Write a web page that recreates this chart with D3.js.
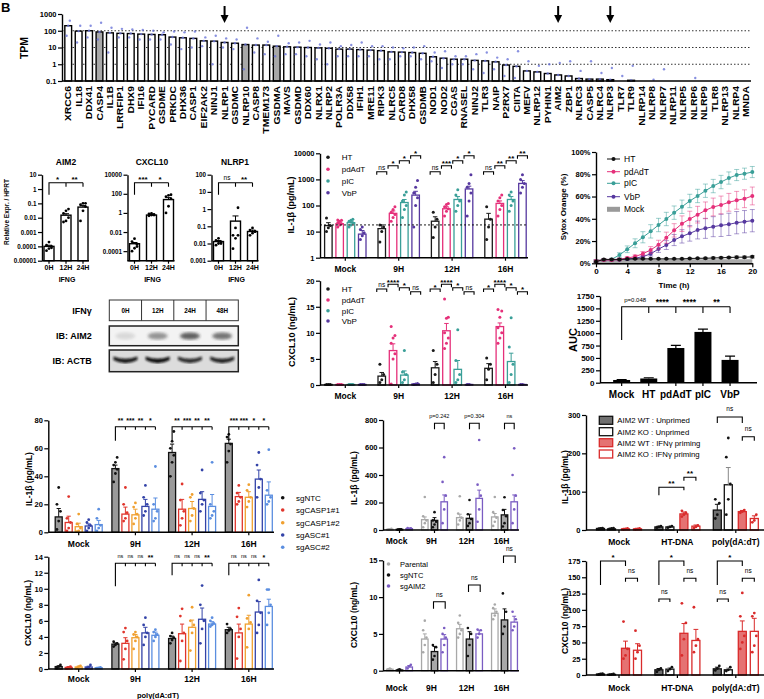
<!DOCTYPE html>
<html><head><meta charset="utf-8">
<script src="https://cdn.jsdelivr.net/npm/d3@7"></script>
<style>body{margin:0;background:#fff}svg{display:block}text{font-family:"Liberation Sans",Arial,Helvetica,sans-serif}</style>
</head><body><svg id="c" width="764" height="699"></svg>
<script>
// ================= DATA =================
const tpmGenes = ["XRCC6","IL18","DDX41","CASP4","IL1B","LRRFIP1","DHX9","IFI16","PYCARD","GSDME","PRKDC","DHX36","CASP1","EIF2AK2","NINJ1","NLRP1","GSDMC","NLRP10","CASP8","TMEM173","GSDMA","MAVS","GSDMD","DDX60","NLRX1","NLRP2","POLR3A","DDX58","IFIH1","MRE11","RIPK3","NLRC5","CARD8","DHX58","GSDMB","NOD1","NOD2","CGAS","RNASEL","NINJ2","TLR3","NAIP","P2RX7","CIITA","MEFV","NLRP12","PYHIN1","AIM2","ZBP1","NLRC3","CASP5","NLRC4","NLRP3","TLR7","TLR9","NLRP14","NLRP8","NLRP7","NLRP11","NLRP5","NLRP6","NLRP9","TLR8","NLRP13","NLRP4","MNDA"];
const tpmValues = [200,95,100,85,75,70,68,63,60,58,42,38,35,25,24,20,18,15,14,14,12,11,10.5,10,9.5,9,8,8,7.5,7,6.5,5.5,5.3,5,4.5,2.8,2.3,2,2,1.7,1.6,1.4,0.9,0.75,0.4,0.35,0.28,0.23,0.2,0.14,0.13,0.13,0.12,0.1,0.11,0.1,0.1,0.1,0.1,0.1,0.1,0.1,0.1,0.1,0.1,0.1];
const tpmLow = [50,20,40,30,5,40,40,30,30,30,15,8,10,12,1,10,8,0.5,5,4,3,4,4,3,2,1,3,3,3,3,2,2,3,3,2,1.5,0.6,1,1,0.5,0.3,0.5,0.2,0.15,0.1,0.1,0.1,0.1,0.1,0.1,0.1,0.1,0.1,0.1,0.1,0.1,0.1,0.1,0.1,0.1,0.1,0.1,0.1,0.1,0.1,0.1];
const tpmHigh = [400,200,200,300,150,130,120,110,100,80,90,80,90,40,50,35,30,150,35,22,50,18,20,25,15,20,12,14,20,12,12,10,9,10,12,5,6,3,3,4,5,2.5,2,6,1.5,0.8,1,1.2,1.5,0.4,1.5,0.3,0.6,0.2,0.8,0.1,0.12,0.5,0.1,0.1,0.15,0.1,0.1,0.1,0.1,0.1];
const tpmGreyGenes = ["CASP4","NLRP10","GSDMA"];
const tpmArrowGenes = ["NLRP1","AIM2","NLRP3"];
const tpmTicks = [0.1,1,10,100,1000];
const tpmGrid = [1,10,100];

const ifngTimes = ["0H","12H","24H"];
const aim2Expr = [0.0001,0.015,0.055];
const aim2Err = [0.00002,0.004,0.015];
const aim2Pts = [[0.00005,0.00007,0.0001,0.00012,0.0002,0.00008],[0.005,0.006,0.01,0.02,0.03,0.04],[0.006,0.03,0.06,0.08,0.1,0.1]];
const aim2Ticks = [0.00001,0.0001,0.001,0.01,0.1,1,10];
const cxclExpr = [0.0006,0.6,25];
const cxclErr = [0.0002,0.05,15];
const cxclPts = [[0.0001,0.0002,0.0005,0.001,0.002,0.0003],[0.5,0.6,0.7,0.8,0.9,0.6],[1,5,30,50,70,80]];
const cxclTicks = [0.0001,0.01,1,100,10000];
const nlrp1Expr = [0.013,0.2,0.05];
const nlrp1Err = [0.002,0.2,0.01];
const nlrp1Pts = [[0.008,0.01,0.012,0.015,0.02,0.01],[0.005,0.02,0.03,0.03,0.08,1.2],[0.03,0.04,0.05,0.06,0.08,0.05]];
const nlrp1Ticks = [0.001,0.01,0.1,1,10,100];
const sigAim2 = ["*","**"], sigCxcl = ["***","*"], sigNlrp1 = ["ns","**"];

const blotLanes = ["0H","12H","24H","48H"];
const aim2Band = [0.12,0.45,0.7,0.6];
const actbBand = [0.95,1,0.85,0.9];

const timeGroups = ["Mock","9H","12H","16H"];
const stimSeries = ["HT","pdAdT","pIC","VbP"];
const il1bStim = [[17,20,22,8],[13,50,130,250],[25,75,170,430],[30,120,170,700]];
const il1bStimErr = [[5,3,3,3],[5,12,40,100],[12,15,50,120],[20,30,50,200]];
const il1bStimPts = [
 [[10,14,17,33],[15,18,20,22,25,27,28],[15,18,22,25,27,30],[5,7,9,12,15]],
 [[4,10,15,18],[25,35,45,55,70,90],[35,70,100,150,250,330],[15,100,200,300,500,900]],
 [[6,15,30,55],[40,60,75,90,110,120],[60,100,150,250,400],[40,150,300,500,700,1500]],
 [[5,15,30,90],[40,70,100,150,200,250],[60,100,150,250,330],[300,500,700,1000,1500]]];
const il1bStimTicks = [1,10,100,1000,10000];
const il1bStimThreshold = 18;
const il1bStimSig = [null,["ns","*","*","*"],["ns","***","*","*"],["ns","**","**","**"]];
const cxclStim = [[0.1,0.1,0.1,0.1],[1.7,6.6,1.9,0.2],[3.3,10.4,3.0,0.1],[3.2,11.2,4.5,0.1]];
const cxclStimErr = [[0.05,0.05,0.05,0.05],[0.7,1.3,0.8,0.05],[1.2,1.4,1.7,0.05],[0.9,0.7,1.6,0.05]];
const cxclStimPts = [
 [[0.1,0.1,0.1],[0.1,0.1,0.1],[0.1,0.1,0.1],[0.1,0.1,0.1]],
 [[0.5,1,2,4],[0.2,5,6,8,9,9.5,11.2],[0.5,1,2,2.5,6.6],[0.1,0.2,0.3]],
 [[0.5,2,4,6.6],[7,8,9,10,12.8,13,16.5],[0.5,1,2,4.7,10.6],[0.1,0.1]],
 [[1,3,4,5.2],[8,9,10,11,13,14.2,14.5],[0.5,2,4,7.3,12.9],[0.1,0.1]]];
const cxclStimTicks = [0,5,10,15,20];
const cxclStimSig = [null,["ns","****","*","ns"],["*","****","*","ns"],["*","****","*","*"]];

const sytoxTime = [0,1,2,3,4,5,6,7,8,9,10,11,12,13,14,15,16,17,18,19,20];
const sytoxHT = [1.5,3.5,3.5,3.5,3.8,4,4,4,4,4,4,4,4.3,4.5,4.5,4.8,5,5.2,5.5,5.5,5.8];
const sytoxPdAdT = [2,3,3,3.5,4.8,6,8.6,12,16.7,23,29.6,35.6,39.8,43.7,47.6,50.6,52.4,54.8,56.6,58,60.5];
const sytoxPIC = [2,3,3.5,7.5,12.6,18,23.4,28.7,34.4,39.8,45.5,50.8,56,60.5,65.2,69.4,73,76.6,79.3,80.5,82];
const sytoxVbP = [2,3,3,3.3,3.8,4.5,6,8.5,12.8,16.4,20.9,24.2,26.9,29.9,31.4,32.9,34.1,35,36.5,37.4,38.3];
const sytoxMock = [1.5,1.5,1.5,1.5,1.5,1.5,1.5,1.5,1.5,1.5,1.5,1.5,1.5,1.5,1.5,1.5,1.5,1.5,1.5,1.5,1.5];
const sytoxErrHT = [0.5,0.5,0.5,0.5,0.5,0.5,0.5,0.5,0.5,0.5,0.5,0.5,0.5,0.5,0.8,0.8,0.8,0.8,1,1,1];
const sytoxErrPdAdT = [1,1,1,1,1,1.5,2,3,4,5,6,7,7,7.5,7.5,8,8,8,8,8,8];
const sytoxErrPIC = [1,1,1,2,3,4,5,6,6,6,6,6,6,6,6,6,6,5.5,5,5,5];
const sytoxErrVbP = [1,1,1,1,1,1,1.5,2,3,4,5,6,7,8,9,9,10,10,10,10,10];
const sytoxXTicks = [0,4,8,12,16,20];
const sytoxYTicks = [0,20,40,60,80,100];

const aucGroups = ["Mock","HT","pdAdT","pIC","VbP"];
const aucValues = [55,85,700,1025,460];
const aucErr = [10,15,55,55,75];
const aucTicks = [0,250,500,750,1000,1250,1500,1750];
const aucSig = ["p=0.048","****","****","**"];

const koSeries = ["sgNTC","sgCASP1#1","sgCASP1#2","sgASC#1","sgASC#2"];
const il1bKO = [[11,7,4,4.5,5.5],[45.5,13,12.5,18.5,16.5],[57,16.5,17,23.5,18.5],[63.5,25.5,25,38,26.5]];
const il1bKOErr = [[6,4.5,2.5,1.5,3],[2.5,5,4,5,8],[6,7,5,5.5,8.5],[3,3,4,6.5,9.5]];
const il1bKOPts = [
 [[2,8,15,20,32],[1,3,7,10,25.5],[0.5,1,3,6,13],[1,3,5,7,9],[1,3,5,10,16.5]],
 [[36,42,45,48,50,53.5],[8,10,14,20,32],[6,10,13,18,21],[12,15,20,25,33.5],[8,10,15,20,47]],
 [[40,50,55,60,65,72],[5,10,15,23,34.5],[8,12,17,25,27],[15,20,23,28,44.5],[10,12,15,20,50]],
 [[50,58,63,68,70],[20,22,25,28,33.5],[18,22,25,30,34],[25,32,38,48,57],[20,22,25,30,59]]];
const il1bKOTicks = [0,20,40,60,80];
const il1bKOSig = [null,["**","***","**","*"],["**","***","**","**"],["***","***","*","*"]];
const cxclKO = [[0.3,0.2,0.25,0.25,0.15],[3.1,3.2,3.9,4.5,4.2],[3.8,4.4,5.2,6.2,5.6],[4.9,4.5,5.6,7.1,7.8]];
const cxclKOErr = [[0.1,0.1,0.1,0.1,0.05],[0.15,0.7,0.4,0.7,0.4],[0.3,1.2,0.9,1.4,0.3],[0.3,1.1,1.1,1.3,0.9]];
const cxclKOPts = [
 [[0.1,0.3,0.5],[0.1,0.2,0.3],[0.1,0.3,0.4],[0.1,0.2,0.5],[0.1,0.15,0.2]],
 [[2.8,3.0,3.2,3.4],[1.2,2.5,3.5,4.6,5.1],[2.5,3.5,4.0,4.3,4.6],[3,4,4.5,5.5,6.4],[3.5,4,4.3,4.6,4.9]],
 [[3.2,3.6,3.9,4.1,4.5],[1,3.5,4.5,6.6,7.5],[2.3,4.5,5.5,6,7.7],[3.2,5,6,8,10.4],[5.3,5.5,5.7,6,6.4]],
 [[4.5,4.8,5,5.6],[1.3,4,5,6.5,7.6],[2.7,5,5.8,6.3,9.2],[4.5,5.5,7,8.5,11.1],[5.5,7,8,9.9,9.9]]];
const cxclKOTicks = [0,2,4,6,8,10,12,14];
const cxclKOSig = [null,["ns","ns","ns","**"],["ns","ns","ns","**"],["ns","ns","ns","*"]];

const aimSeries = ["Parental","sgNTC","sgAIM2"];
const il1bAim = [[5,5,10],[75,70,205],[90,85,230],[95,110,205]];
const il1bAimErr = [[2,2,3],[20,20,50],[25,30,60],[25,40,50]];
const il1bAimPts = [
 [[3,6,8],[3,5,6],[5,8,12,15]],
 [[20,50,70,100,240],[20,40,60,70,130],[50,150,250,350,530]],
 [[40,70,90,120,245],[30,50,80,115,218],[60,150,250,330,655]],
 [[30,60,90,130,240],[25,50,100,145,238],[50,150,250,400,594]]];
const il1bAimTicks = [0,200,400,600,800];
const il1bAimSig = [null,"p=0.242","p=0.304","ns"];
const cxclAim = [[0.2,0.1,0.5],[4.3,2.6,4.3],[5.7,4.3,5.0],[7.8,6.9,6.6]];
const cxclAimErr = [[0.1,0.1,0.2],[0.7,0.7,0.6],[0.6,1.0,0.5],[0.6,1.5,0.8]];
const cxclAimPts = [
 [[0.2,0.3],[0.1,0.2],[0.3,0.6,0.8]],
 [[2.5,3.5,4.5,5.5,6.8],[1.5,2,3.2,3.5],[2.5,3.5,4.5,5,5.8]],
 [[4.5,5,5.5,6.5,7.5],[2,3.5,5,5.8],[4.5,5,5.5,5.6]],
 [[7,7.5,8,8.5,9],[5,6,8,10.5],[5.5,6,7,8]]];
const cxclAimTicks = [0,5,10,15];
const cxclAimSig = [null,"ns","ns","ns"];

const primeGroups = ["Mock","HT-DNA","poly(dA:dT)"];
const primeSeries = ["AIM2 WT : Unprimed","AIM2 KO : Unprimed","AIM2 WT : IFNγ priming","AIM2 KO : IFNγ priming"];
const il1bPrime = [[4,3,3,3],[8,8,42,10],[52,118,48,30]];
const il1bPrimeErr = [[1,1,1,1],[2,2,5,3],[15,45,3,7]];
const il1bPrimePts = [
 [[3,4,5],[3,4,5],[2,3,4],[2,3,4]],
 [[6,8,10],[6,8,10],[35,40,45,50],[5,8,12]],
 [[30,40,70,80],[40,80,120,190,240],[45,48,52],[20,25,40]]];
const il1bPrimeTicks = [0,100,200,300];
const cxclPrime = [[1.5,1,41,38],[8,9,64,53],[9.5,8,67,67]];
const cxclPrimeErr = [[0.5,0.3,11,10],[2,2,15,17],[2.5,2.5,16,20]];
const cxclPrimePts = [
 [[0.5,1.5,2],[0.5,1,1.5],[25,30,40,82],[25,35,45,68]],
 [[5,8,10],[6,9,12],[30,55,80,110],[35,45,55,104]],
 [[7,10,14],[6,8,12],[40,50,60,90,126],[35,45,60,90,95]]];
const cxclPrimeTicks = [0,25,50,75,100,125,150,175];

// ================= HELPERS =================
const svg = d3.select("#c");
const FONT = '"Liberation Sans", Arial, Helvetica, sans-serif';
function txt(x,y,s,o={}){
  const t = svg.append("text").attr("x",x).attr("y",y).text(s)
    .attr("font-size",o.size||8).attr("font-weight",o.bold===false?"normal":"bold")
    .attr("text-anchor",o.anchor||"middle").attr("fill",o.fill||"#000");
  if(o.rotate) t.attr("transform",`rotate(-90,${x},${y})`);
  if(o.dy) t.attr("dy",o.dy);
  return t;
}
function yAxis(scale,x,ticks,fmt,size,len=4){
  const g = svg.append("g").attr("transform",`translate(${x},0)`)
    .call(d3.axisLeft(scale).tickValues(ticks).tickFormat(fmt).tickSize(len).tickSizeOuter(0));
  g.select(".domain").attr("stroke","#000").attr("stroke-width",1.4);
  g.selectAll(".tick line").attr("stroke","#000").attr("stroke-width",1.2);
  g.selectAll(".tick text").attr("font-size",size).attr("font-weight","bold").attr("font-family",FONT).attr("fill","#000").attr("x",-len-1.5);
  return g;
}
function line(x1,y1,x2,y2,c="#000",w=1.4){ return svg.append("line").attr("x1",x1).attr("y1",y1).attr("x2",x2).attr("y2",y2).attr("stroke",c).attr("stroke-width",w); }
function bracket(x1,x2,y,d1,d2,label,ly,size){
  svg.append("path").attr("d",`M${x1},${y+d1}V${y}H${x2}V${y+d2}`).attr("fill","none").attr("stroke","#000").attr("stroke-width",1.1);
  if(label) sigText((x1+x2)/2, ly===undefined? y-2 : ly, label, size);
}
function sigText(x,y,label,size){
  const isStar = /^\*+$/.test(label);
  txt(x, isStar? y+2.5 : y, label, {size: isStar? (size||8) : (size? size-1.5 : 6.5), bold: isStar});
}
function multiBracket(xs,y,drop,tick,labels,ly,size){
  let d = `M${xs[0]},${y+drop}V${y}H${xs[xs.length-1]}`;
  xs.slice(1).forEach(x=>{ d += `M${x},${y}V${y+tick}`; });
  svg.append("path").attr("d",d).attr("fill","none").attr("stroke","#000").attr("stroke-width",1.1);
  labels.forEach((l,i)=> sigText((xs[i]+xs[i+1])/2, ly, l, size));
}
function grouped(o){
  const gx = d3.scaleBand().domain(o.groups).range([o.x0,o.x1]);
  const n = o.series.length;
  const cx = gi => gx(o.groups[gi]) + gx.bandwidth()/2;
  const bx = (gi,si) => cx(gi) + (o.offsets ? o.offsets[si] : (si-(n-1)/2)*o.step);
  const base = o.y.range()[0];
  const G = svg.append("g");
  o.vals.forEach((row,gi)=>row.forEach((v,si)=>{
    const x=bx(gi,si), w=o.barW, yt=o.y(v);
    G.append("rect").attr("x",x-w/2).attr("y",yt).attr("width",w).attr("height",Math.max(0,base-yt))
      .attr("fill",o.fills[si]).attr("stroke",o.strokes[si]).attr("stroke-width",o.sw||1.3);
  }));
  o.vals.forEach((row,gi)=>row.forEach((v,si)=>{
    const x=bx(gi,si), w=o.barW, yt=o.y(v);
    if(o.errs){ const e=o.errs[gi][si]; if(e>0){ const ye=o.y(v+e);
      G.append("path").attr("d",`M${x},${yt}V${ye}M${x-w*0.3},${ye}H${x+w*0.3}`).attr("stroke",o.errColors? o.errColors[si]: o.strokes[si]).attr("stroke-width",1).attr("fill","none"); } }
    if(o.pts){ o.pts[gi][si].forEach((p,k)=>{
      G.append("circle").attr("cx", x + ((k%3)-1)*w*0.25).attr("cy",o.y(p)).attr("r",o.r||1.3)
        .attr("fill", o.ptColors? o.ptColors[si] : o.strokes[si]); }); }
  }));
  line(o.axisX, base, o.axisEnd, base);
  o.groups.forEach((g,gi)=>{
    line(cx(gi),base,cx(gi),base+3,"#000",1.2);
    txt(cx(gi)+(o.labelDx||0), o.labelY, g, {size:o.labelSize||8.5});
  });
  yAxis(o.y, o.axisX, o.ticks, o.fmt||(d=>d), o.tickSize||7.5);
  return {bx,cx};
}
function legendDots(x,tx,ys,labels,colors,size){
  labels.forEach((l,i)=>{
    svg.append("circle").attr("cx",x).attr("cy",ys[i]).attr("r",1.8).attr("fill",colors[i]);
    txt(tx, ys[i]+size*0.35, l, {size, bold:false, anchor:"start"});
  });
}

// ================= PANEL A: TPM =================
txt(1,12,"B",{size:13,anchor:"start"});
const ax = d3.scaleBand().domain(tpmGenes).range([63,751]).paddingInner(0.35).paddingOuter(0.175);
const ay = d3.scaleLog().domain([0.1,1000]).range([81,14]);
tpmGrid.forEach(v=> line(62, ay(v), 751, ay(v), "#000", 0.8).attr("stroke-dasharray","1.5,2"));
tpmGenes.forEach((g,i)=>{
  const x = ax(g), w = ax.bandwidth(), yt = ay(tpmValues[i]);
  if (tpmValues[i] > 0.1)
    svg.append("rect").attr("x",x).attr("y",yt).attr("width",w).attr("height",ay(0.1)-yt)
      .attr("fill", tpmGreyGenes.includes(g) ? "#a8a8a8" : "#fff").attr("stroke","#000").attr("stroke-width",1.4);
});
tpmGenes.forEach((g,i)=>{
  const c = ax(g)+ax.bandwidth()/2;
  [tpmLow[i], tpmValues[i], tpmHigh[i]].forEach((v,k)=>{
    if (v > 0.1) svg.append("circle").attr("cx",c+(k-1)*1.6).attr("cy",ay(v)).attr("r",1.2).attr("fill","#6a74d8").attr("opacity",0.8);
  });
  svg.append("text").attr("transform",`translate(${c},86) scale(1,1.15) rotate(-90)`).attr("dy","0.35em")
    .attr("text-anchor","end").attr("font-size",9).attr("font-weight","bold").attr("fill","#000").text(g);
});
yAxis(ay, 62, tpmTicks, d=>d, 7.5);
line(62, 81, 751, 81);
txt(28, 48, "TPM", {size:10.5, rotate:true});
tpmArrowGenes.forEach(g=>{
  const c = ax(g)+ax.bandwidth()/2;
  line(c,6,c,16,"#000",2);
  svg.append("path").attr("d",`M${c-4},15L${c+4},15L${c},23Z`).attr("fill","#000");
});

// ================= PANEL B: qPCR =================
function qpcr(title, vals, errs, pts, ticks, domain, x0, titleX, sig){
  const y = d3.scaleLog().domain(domain).range([260.7,174.7]);
  const r = grouped({groups:ifngTimes, series:["v"], vals:vals.map(v=>[v]), errs:errs.map(e=>[e]), pts:pts.map(p=>[p]),
    y, x0:x0-1.5, x1:x0+49.5, axisX:x0, axisEnd:x0+47, step:0, barW:10, strokes:["#000"], fills:["#fff"],
    labelY:269.5, labelSize:7, ticks, fmt:d=>String(d), tickSize:6.3, r:1.4, sw:1.4});
  txt(titleX, 165, title, {size:8.5});
  txt(x0+25, 282, "IFNG", {size:7});
  const xs = [0,1,2].map(i=>r.cx(i));
  multiBracket(xs, 182.7, 12, 4, sig, 179.5, 8);
}
qpcr("AIM2", aim2Expr, aim2Err, aim2Pts, aim2Ticks, [0.00001,10], 42, 66, sigAim2);
qpcr("CXCL10", cxclExpr, cxclErr, cxclPts, cxclTicks, [0.00001,10000], 127.5, 152, sigCxcl);
qpcr("NLRP1", nlrp1Expr, nlrp1Err, nlrp1Pts, nlrp1Ticks, [0.001,100], 211.5, 235, sigNlrp1);
txt(9, 212, "Relative Expr. / HPRT", {size:6.5, rotate:true});

// ================= Western blot =================
const lane = d3.scaleBand().domain(blotLanes).range([109.3,238.3]);
const defs = svg.append("defs");
defs.append("filter").attr("id","blur").append("feGaussianBlur").attr("stdDeviation",1.4);
defs.append("filter").attr("id","blur2").append("feGaussianBlur").attr("stdDeviation",0.8);
svg.append("rect").attr("x",109.3).attr("y",300).attr("width",129).attr("height",20.7).attr("fill","#fff").attr("stroke","#333").attr("stroke-width",1);
blotLanes.forEach((l,i)=>{
  if(i>0) line(lane(l),300,lane(l),320.7,"#333",1);
  txt(lane(l)+lane.bandwidth()/2, 312.6, l, {size:6.3});
});
svg.append("rect").attr("x",109.3).attr("y",326).attr("width",129).attr("height",19.7).attr("fill","#f3f3f3").attr("stroke","#222").attr("stroke-width",1.5);
svg.append("rect").attr("x",109.3).attr("y",350).attr("width",129).attr("height",21.7).attr("fill","#dcdcdc").attr("stroke","#222").attr("stroke-width",1.5);
blotLanes.forEach((l,i)=>{
  const c = lane(l)+lane.bandwidth()/2;
  svg.append("ellipse").attr("cx",c).attr("cy",336).attr("rx",10).attr("ry",3.5).attr("fill","#202020").attr("opacity",aim2Band[i]).attr("filter","url(#blur)");
  svg.append("path").attr("d",`M${c-12},356.5Q${c},361 ${c+12},356.5L${c+12},360Q${c},366.5 ${c-12},360Z`)
    .attr("fill","#0d0d0d").attr("opacity",actbBand[i]).attr("filter","url(#blur2)");
});
txt(91.7,313.5,"IFNγ",{size:9,anchor:"end"});
txt(91.7,339,"IB: AIM2",{size:9,anchor:"end"});
txt(91.7,364,"IB: ACTB",{size:9,anchor:"end"});

// ================= PANEL C =================
const stimColors = ["#1a1a1a","#e5307a","#3a9f98","#56389f"];
const whites4 = ["#fff","#fff","#fff","#fff"];
const cy1 = d3.scaleLog().domain([1,10000]).range([257.7,153.3]);
const C1 = grouped({groups:timeGroups, series:stimSeries, vals:il1bStim, errs:il1bStimErr, pts:il1bStimPts, y:cy1,
  x0:318.6, x1:532.2, axisX:320, axisEnd:528, step:11.3, barW:7.5, strokes:stimColors, fills:whites4,
  labelY:271.5, labelSize:8.5, ticks:il1bStimTicks, fmt:d=>d, tickSize:7.5, r:1.5});
line(320, cy1(il1bStimThreshold), 528, cy1(il1bStimThreshold), "#000", 0.9).attr("stroke-dasharray","2,2");
const stagC1 = [171.7,165.7,160.7,155.7];
il1bStimSig.forEach((row,gi)=>{ if(!row) return; row.forEach((l,si)=>{ const x=C1.bx(gi,si); bracket(x-5,x+5,stagC1[si],3,3,l); }); });
legendDots(328,341.7,[157.3,169.3,181,192.7],stimSeries,stimColors,8);
txt(294,205,"IL-1β (pg/mL)",{size:9,rotate:true});

const cy2 = d3.scaleLinear().domain([0,20]).range([385,280.7]);
const C2 = grouped({groups:timeGroups, series:stimSeries, vals:cxclStim, errs:cxclStimErr, pts:cxclStimPts, y:cy2,
  x0:318.6, x1:532.2, axisX:320, axisEnd:528, step:11.3, barW:7.5, strokes:stimColors, fills:whites4,
  labelY:399, labelSize:8.5, ticks:cxclStimTicks, fmt:d=>d, tickSize:7.5, r:1.5});
const stagC2 = [289,284.3,287.7,291.7];
cxclStimSig.forEach((row,gi)=>{ if(!row) return; row.forEach((l,si)=>{ const x=C2.bx(gi,si); bracket(x-5,x+5,stagC2[si],3,3,l); }); });
legendDots(328,341.7,[289,300,310.7,321],stimSeries,stimColors,8);
txt(295,332,"CXCL10 (ng/mL)",{size:9,rotate:true});

// ================= PANEL D: Sytox =================
const sx = d3.scaleLinear().domain([0,20]).range([596,752.3]);
const sy = d3.scaleLinear().domain([0,100]).range([263.3,152]);
const sytoxSets = [
  {name:"HT", v:sytoxHT, e:sytoxErrHT, c:"#111"},
  {name:"pdAdT", v:sytoxPdAdT, e:sytoxErrPdAdT, c:"#e5307a"},
  {name:"pIC", v:sytoxPIC, e:sytoxErrPIC, c:"#3a9f98"},
  {name:"VbP", v:sytoxVbP, e:sytoxErrVbP, c:"#56389f"}];
svg.append("path").datum(sytoxMock).attr("d", d3.line().x((d,i)=>sx(sytoxTime[i])).y(d=>sy(d)))
  .attr("fill","none").attr("stroke","#9a9a9a").attr("stroke-width",5).attr("opacity",0.85);
sytoxSets.slice().reverse().forEach(s=>{
  s.v.forEach((v,i)=>{
    const x=sx(sytoxTime[i]);
    svg.append("path").attr("d",`M${x},${sy(v-s.e[i])}V${sy(v+s.e[i])}M${x-2.5},${sy(v-s.e[i])}H${x+2.5}M${x-2.5},${sy(v+s.e[i])}H${x+2.5}`)
      .attr("stroke",s.c).attr("stroke-width",0.9).attr("opacity",0.55).attr("fill","none");
  });
  svg.append("path").datum(s.v).attr("d", d3.line().x((d,i)=>sx(sytoxTime[i])).y(d=>sy(d)))
    .attr("fill","none").attr("stroke",s.c).attr("stroke-width",1);
  s.v.forEach((v,i)=> svg.append("circle").attr("cx",sx(sytoxTime[i])).attr("cy",sy(v)).attr("r",2).attr("fill",s.c));
});
{
  const g = svg.append("g").attr("transform","translate(0,263.3)").call(d3.axisBottom(sx).tickValues(sytoxXTicks).tickSize(4).tickSizeOuter(0));
  g.select(".domain").attr("stroke","#000").attr("stroke-width",1.4);
  g.selectAll(".tick line").attr("stroke","#000").attr("stroke-width",1.2);
  g.selectAll(".tick text").attr("font-size",8).attr("font-weight","bold").attr("font-family",FONT).attr("fill","#000").attr("y",5.5);
}
yAxis(sy, 596, sytoxYTicks, d=>d+"%", 7.5);
txt(674,288,"Time (h)",{size:8});
txt(566,207,"Sytox Orange (%)",{size:8,rotate:true});
sytoxSets.forEach((s,i)=>{
  const y = [159,171.7,183.3,196.7][i];
  line(607,y,620,y,s.c,1); svg.append("circle").attr("cx",613.5).attr("cy",y).attr("r",2).attr("fill",s.c);
  txt(624,y+3,s.name,{size:8.5,bold:false,anchor:"start"});
});
line(607,209.3,620,209.3,"#9a9a9a",5);
txt(624,212.3,"Mock",{size:8.5,bold:false,anchor:"start"});

// ================= PANEL E: AUC =================
const ex = d3.scaleBand().domain(aucGroups).range([608.1,743.6]);
const ey = d3.scaleLinear().domain([0,1750]).range([382.7,296]);
aucGroups.forEach((g,i)=>{
  const c = ex(g)+ex.bandwidth()/2, w=17, yt=ey(aucValues[i]);
  svg.append("rect").attr("x",c-w/2).attr("y",yt).attr("width",w).attr("height",ey(0)-yt).attr("fill","#000");
  const ye = ey(aucValues[i]+aucErr[i]);
  svg.append("path").attr("d",`M${c},${yt}V${ye}M${c-5},${ye}H${c+5}`).attr("stroke","#000").attr("stroke-width",1.2);
  line(c,382.7,c,386,"#000",1.2);
  txt(c,397.5,g,{size:10});
});
line(600,382.7,757,382.7);
yAxis(ey,600,aucTicks,d=>d,8);
txt(577,340,"AUC",{size:11,rotate:true});
{
  const xs = aucGroups.map(g=>ex(g)+ex.bandwidth()/2);
  let d = `M${xs[0]},340V306.7H${xs[4]}`;
  xs.slice(1).forEach(x=> d += `M${x},306.7V313`);
  svg.append("path").attr("d",d).attr("fill","none").attr("stroke","#000").attr("stroke-width",1.1);
  txt((xs[0]+xs[1])/2,302,aucSig[0],{size:6,bold:false});
  aucSig.slice(1).forEach((l,i)=> txt((xs[i+1]+xs[i+2])/2, 305, l, {size:8.5}));
}

// ================= PANEL F =================
const koColors = ["#111","#e0352c","#f0a030","#3343a8","#5b8ee0"];
const koFills = ["#9a9a9a","#fff","#fff","#fff","#fff"];
const fy1 = d3.scaleLinear().domain([0,80]).range([532.3,420.3]);
const F1 = grouped({groups:timeGroups, series:koSeries, vals:il1bKO, errs:il1bKOErr, pts:il1bKOPts, y:fy1,
  x0:50.35, x1:277.15, axisX:48.3, axisEnd:274, step:10, barW:7, strokes:koColors, fills:koFills,
  labelY:546.5, labelSize:8.5, ticks:il1bKOTicks, fmt:d=>d, tickSize:7.5, r:1.4});
il1bKOSig.forEach((row,gi)=>{ if(!row) return; multiBracket([0,1,2,3,4].map(si=>F1.bx(gi,si)), 426.7, 14, 3, row, 420.5, 7); });
legendDots(282.7,296,[497.7,510,522.7,535,547.3],koSeries,koColors,8);
txt(32,479,"IL-1β (pg/mL)",{size:8.5,rotate:true});

const fy2 = d3.scaleLinear().domain([0,14]).range([669,556.7]);
const F2 = grouped({groups:timeGroups, series:koSeries, vals:cxclKO, errs:cxclKOErr, pts:cxclKOPts, y:fy2,
  x0:50.35, x1:277.15, axisX:48.3, axisEnd:274, step:10, barW:7, strokes:koColors, fills:koFills,
  labelY:682, labelSize:8.5, ticks:cxclKOTicks, fmt:d=>d, tickSize:7.5, r:1.4});
const fDrop = [0,23,12,12];
cxclKOSig.forEach((row,gi)=>{ if(!row) return; multiBracket([0,1,2,3,4].map(si=>F2.bx(gi,si)), 563.3, fDrop[gi], 3, row, 557.5, 7); });
txt(31,613,"CXCL10 (ng/mL)",{size:8.5,rotate:true});
txt(158,698,"poly(dA:dT)",{size:7.5});

// ================= PANEL G =================
const aimColors = ["#a8a8a8","#111","#7a5cc2"];
const aimFills = ["#fff","#a8a8a8","#fff"];
const gy1 = d3.scaleLinear().domain([0,800]).range([530,420]);
const G1 = grouped({groups:timeGroups, series:aimSeries, vals:il1bAim, errs:il1bAimErr, pts:il1bAimPts, y:gy1,
  x0:382, x1:522, axisX:383, axisEnd:519, step:9.7, barW:6.5, strokes:aimColors, fills:aimFills,
  labelY:544, labelSize:8.5, labelDx:-3, ticks:il1bAimTicks, fmt:d=>d, tickSize:7.5, r:1.3});
il1bAimSig.forEach((l,gi)=>{ if(!l) return; bracket(G1.bx(gi,1),G1.bx(gi,2),423.3,6,6,l,418, 7); });
txt(357,478,"IL-1β (pg/mL)",{size:8.5,rotate:true});

const gy2 = d3.scaleLinear().domain([0,15]).range([670.7,560.3]);
const G2 = grouped({groups:timeGroups, series:aimSeries, vals:cxclAim, errs:cxclAimErr, pts:cxclAimPts, y:gy2,
  x0:382, x1:522, axisX:383, axisEnd:519, step:9.7, barW:6.5, strokes:aimColors, fills:aimFills,
  labelY:691, labelSize:8.5, labelDx:-3, ticks:cxclAimTicks, fmt:d=>d, tickSize:7.5, r:1.3});
const gStag = [0,601.7,585,556];
cxclAimSig.forEach((l,gi)=>{ if(!l) return; bracket(G2.bx(gi,1)-1,G2.bx(gi,2)+1,gStag[gi],7,7,l,gStag[gi]-5, 8); });
legendDots(388.5,400,[564,575,586],aimSeries,["#a8a8a8","#111","#7a5cc2"],7.5);
txt(357,615,"CXCL10 (ng/mL)",{size:8.5,rotate:true});

// ================= PANEL H =================
const prStroke = ["#111","#111","#d92b2b","#d92b2b"];
const prFill = ["#707070","#fff","#e57272","#fff"];
const prPt = ["#111","#111","#d92b2b","#d92b2b"];
const hy1 = d3.scaleLinear().domain([0,300]).range([530,415]);
const H1 = grouped({groups:primeGroups, series:primeSeries, vals:il1bPrime, errs:il1bPrimeErr, pts:il1bPrimePts, y:hy1,
  x0:589.8, x1:765, axisX:586, axisEnd:764, offsets:[-18.5,-7.5,6.5,18.5], barW:8, strokes:prStroke, fills:prFill,
  errColors:["#111","#888","#d92b2b","#d92b2b"], ptColors:prPt,
  labelY:544.5, labelSize:8.5, ticks:il1bPrimeTicks, fmt:d=>d, tickSize:7.5, r:1.4});
bracket(H1.bx(1,0),H1.bx(1,2),487.3,8,3,"**",483);
bracket(H1.bx(1,2),H1.bx(1,3),477.3,3.5,3.5,"**",473);
bracket(H1.bx(2,0),H1.bx(2,2),417,6,6,"ns",410.5,8);
bracket(H1.bx(2,2),H1.bx(2,3),436.7,4,4,"ns",430.5,8);
primeSeries.forEach((s,i)=>{
  const y = [420.3,431.7,442.7,454][i];
  svg.append("rect").attr("x",599.3).attr("y",y-4).attr("width",13.4).attr("height",8).attr("fill",prFill[i]).attr("stroke",prStroke[i]).attr("stroke-width",1.3);
  txt(617.3,y+2.8,s,{size:7.8,bold:false,anchor:"start"});
});
txt(568,477,"IL-1β (pg/mL)",{size:8.5,rotate:true});

const hy2 = d3.scaleLinear().domain([0,175]).range([675,561]);
const H2 = grouped({groups:primeGroups, series:primeSeries, vals:cxclPrime, errs:cxclPrimeErr, pts:cxclPrimePts, y:hy2,
  x0:589.8, x1:765, axisX:586, axisEnd:764, offsets:[-18.5,-7.5,6.5,18.5], barW:8, strokes:prStroke, fills:prFill,
  errColors:["#111","#888","#d92b2b","#d92b2b"], ptColors:prPt,
  labelY:691, labelSize:8.5, ticks:cxclPrimeTicks, fmt:d=>d, tickSize:7.5, r:1.4});
primeGroups.forEach((g,gi)=>{
  bracket(H2.bx(gi,0),H2.bx(gi,2),561,24,5,"*",557);
  bracket(H2.bx(gi,2),H2.bx(gi,3),578.3,3.5,3.5,"ns",572.5,8);
  if(gi>0) bracket(H2.bx(gi,0),H2.bx(gi,1),599,3,3,"ns",593.5,8);
});
txt(568,621,"CXCL10 (ng/mL)",{size:8.5,rotate:true});
</script></body></html>
